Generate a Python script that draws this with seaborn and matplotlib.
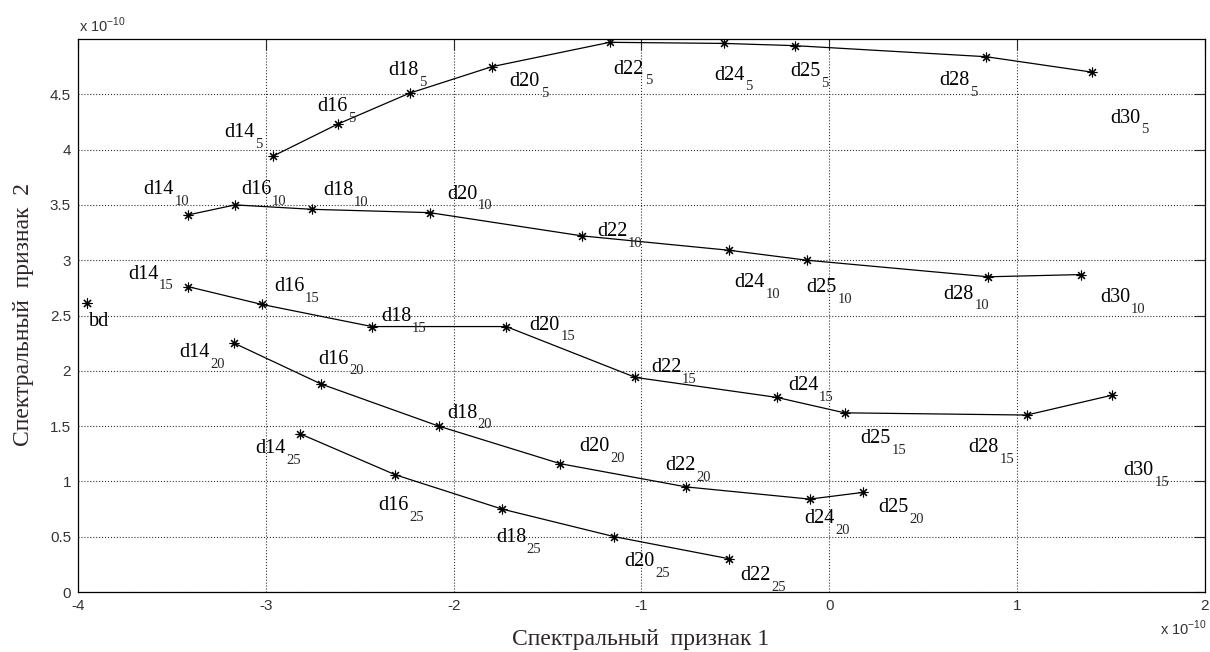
import pandas as pd
import seaborn as sns
import matplotlib.pyplot as plt
import numpy as np

# значения в единицах 1e-10
nomes5 = ['d14', 'd16', 'd18', 'd20', 'd22', 'd24', 'd25', 'd28', 'd30']
x5 = [-2.963, -2.618, -2.235, -1.796, -1.169, -0.562, -0.185, 0.834, 1.400]
y5 = [3.94, 4.23, 4.51, 4.75, 4.97, 4.96, 4.94, 4.84, 4.70]

nomes10 = ['d14', 'd16', 'd18', 'd20', 'd22', 'd24', 'd25', 'd28', 'd30']
x10 = [-3.412, -3.164, -2.752, -2.128, -1.317, -0.535, -0.121, 0.845, 1.338]
y10 = [3.41, 3.50, 3.46, 3.43, 3.22, 3.09, 3.00, 2.85, 2.87]

nomes15 = ['d14', 'd16', 'd18', 'd20', 'd22', 'd24', 'd25', 'd28', 'd30']
x15 = [-3.412, -3.021, -2.435, -1.720, -1.032, -0.281, 0.081, 1.051, 1.507]
y15 = [2.76, 2.60, 2.40, 2.40, 1.94, 1.76, 1.62, 1.60, 1.78]

nomes20 = ['d14', 'd16', 'd18', 'd20', 'd22', 'd24', 'd25']
x20 = [-3.169, -2.705, -2.080, -1.432, -0.761, -0.105, 0.177]
y20 = [2.25, 1.88, 1.50, 1.16, 0.95, 0.84, 0.90]

nomes25 = ['d14', 'd16', 'd18', 'd20', 'd22']
x25 = [-2.817, -2.311, -1.743, -1.144, -0.532]
y25 = [1.43, 1.06, 0.75, 0.50, 0.30]

bd_x = [-3.954]
bd_y = [2.61]

# posições das legendas (esquerda, linha de base)
lx5 = [-3.222, -2.725, -2.347, -1.702, -1.148, -0.615, -0.207, 0.583, 1.493]
ly5 = [4.114, 4.349, 4.672, 4.572, 4.687, 4.633, 4.663, 4.581, 4.244]
lx10 = [-3.652, -3.133, -2.696, -2.036, -1.237, -0.505, -0.121, 0.607, 1.441]
ly10 = [3.596, 3.596, 3.587, 3.557, 3.216, 2.758, 2.712, 2.653, 2.622]
lx15 = [-3.735, -2.956, -2.386, -1.596, -0.949, -0.221, 0.166, 0.742, 1.567]
ly15 = [2.834, 2.722, 2.450, 2.373, 1.989, 1.824, 1.344, 1.263, 1.055]
lx20 = [-3.460, -2.720, -2.036, -1.329, -0.873, -0.132, 0.262]
ly20 = [2.125, 2.065, 1.577, 1.275, 1.100, 0.621, 0.721]
lx25 = [-3.057, -2.403, -1.775, -1.091, -0.473]
ly25 = [1.257, 0.739, 0.452, 0.232, 0.106]
bd_lx, bd_ly = -3.940, 2.405

series = {
    '5': (nomes5, x5, y5, lx5, ly5),
    '10': (nomes10, x10, y10, lx10, ly10),
    '15': (nomes15, x15, y15, lx15, ly15),
    '20': (nomes20, x20, y20, lx20, ly20),
    '25': (nomes25, x25, y25, lx25, ly25),
}

sns.set_style('white')
plt.rcParams['axes.unicode_minus'] = False
plt.rcParams['font.family'] = ['Liberation Sans', 'DejaVu Sans']

linhas = []
for s, (nomes, xs, ys, _, _) in series.items():
    for n, x, y in zip(nomes, xs, ys):
        linhas.append({'serie': s, 'nome': n, 'x': x, 'y': y})
df = pd.DataFrame(linhas)

fig = plt.figure(figsize=(12.1, 6.52), dpi=100)
ax = fig.add_axes([78 / 1210, 1 - 592 / 652, 1127 / 1210, 553 / 652])

asterisco = (8, 2, 0)
sns.lineplot(data=df, x='x', y='y', units='serie', estimator=None, sort=False,
             color='black', linewidth=0.9, marker=asterisco, markersize=7,
             markeredgewidth=0.8, markeredgecolor='black', ax=ax)
sns.scatterplot(x=bd_x, y=bd_y, marker=asterisco, s=45, color='black',
                linewidth=0.8, edgecolor='black', ax=ax)


def rotulo(ax, x, y, nome, sub):
    t = ax.text(x, y, nome, fontsize=14.5, family='Liberation Serif',
                ha='left', va='baseline', color='black')
    if sub:
        ax.annotate(sub, xy=(1, 0), xycoords=t, xytext=(0.5, -4),
                    textcoords='offset points', fontsize=10.5,
                    family='Liberation Serif', ha='left', va='baseline')


for s, (nomes, xs, ys, lxs, lys) in series.items():
    for n, lx, ly in zip(nomes, lxs, lys):
        rotulo(ax, lx, ly, n, s)
rotulo(ax, bd_lx, bd_ly, 'bd', '')

ax.set_xlim(-4, 2)
ax.set_ylim(0, 5)
ax.set_xticks(np.arange(-4, 2.1, 1))
ax.set_yticks(np.arange(0, 4.6, 0.5))
ax.set_xticklabels(['-4', '-3', '-2', '-1', '0', '1', '2'])
ax.set_yticklabels(['0', '0.5', '1', '1.5', '2', '2.5', '3', '3.5', '4', '4.5'])
ax.grid(True, linestyle=':', color='black', linewidth=0.8, alpha=0.8)
ax.tick_params(direction='in', length=8, width=0.8, top=True, right=True,
               labelsize=11, labelcolor='#333333', pad=5)
for spine in ax.spines.values():
    spine.set_visible(True)
    spine.set_color('black')
    spine.set_linewidth(0.9)
ax.set_xlabel('')
ax.set_ylabel('')

fig.text(79 / 1210, 1 - 31.7 / 652, r'x 10$^{\mathregular{-10}}$', fontsize=10.5,
         color='#333333', ha='left', va='baseline')
fig.text(1160 / 1210, 1 - 635 / 652, r'x 10$^{\mathregular{-10}}$', fontsize=10.5,
         color='#333333', ha='left', va='baseline')

fig.text(641 / 1210, 1 - 640 / 652, 'Спектральный  признак 1', fontsize=17,
         family='Liberation Serif', color='#2e2626', ha='center', va='center')
fig.text(24 / 1210, 1 - 315 / 652, 'Спектральный  признак  2', fontsize=17,
         family='Liberation Serif', color='#2e2626', ha='center', va='center',
         rotation=90)

fig.savefig('out.png', dpi=100)
